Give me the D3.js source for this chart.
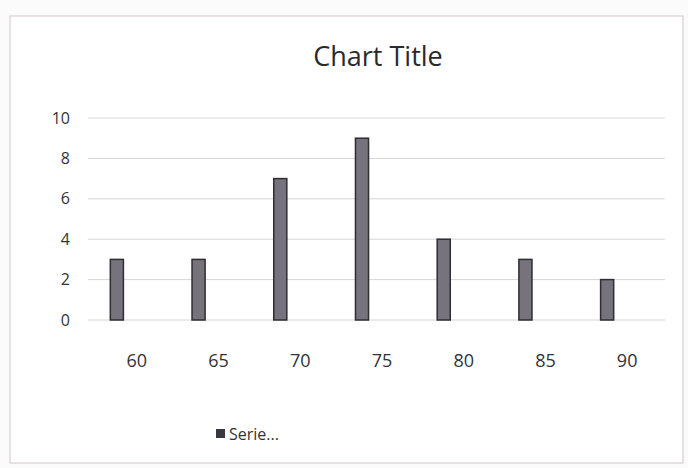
<!DOCTYPE html>
<html>
<head>
<meta charset="utf-8">
<script src="https://cdn.jsdelivr.net/npm/d3@7"></script>
<style>
  body { margin: 0; background: #fbfbfb; }
  text { font-family: "Open Sans", "Liberation Sans", sans-serif; fill: #333; }
</style>
</head>
<body>
<svg></svg>
<script>
var WIDTH = 688;
var HEIGHT = 468;

// categories (x axis) and series values
var categories = ["60", "65", "70", "75", "80", "85", "90"];
var values = [3, 3, 7, 9, 4, 3, 2];
var yTicks = [0, 2, 4, 6, 8, 10];
var seriesName = "Serie...";

var svg = d3.select("svg")
    .attr("width", WIDTH)
    .attr("height", HEIGHT);

// chart frame
svg.append("rect")
    .attr("x", 10).attr("y", 16)
    .attr("width", 673).attr("height", 447)
    .attr("fill", "#ffffff")
    .attr("stroke", "#d9cfd2")
    .attr("stroke-width", 1.2);

svg.append("text")
    .attr("x", 378).attr("y", 66)
    .attr("text-anchor", "middle")
    .style("font-size", "27px")
    .style("fill", "#2a2a2a")
    .text("Chart Title");

var x = d3.scaleBand()
    .domain(categories)
    .range([76, 648])
    .paddingInner(0.84)
    .paddingOuter(0.42);

var y = d3.scaleLinear()
    .domain([0, 10])
    .range([320, 118]);

//gridlines
svg.append("g")
    .selectAll("line")
    .data(yTicks)
    .enter()
    .append("line")
    .attr("x1", 88).attr("x2", 665)
    .attr("y1", function(d) { return y(d); })
    .attr("y2", function(d) { return y(d); })
    .attr("stroke", "#d6d6d6")
    .attr("stroke-width", 1);

//y axis labels
var yAxis = svg.append("g")
    .attr("transform", "translate(70,0)")
    .call(d3.axisLeft(y).tickValues(yTicks).tickSize(0).tickPadding(0));
yAxis.select(".domain").remove();
yAxis.selectAll("text")
    .style("font-size", "16px")
    .style("fill", "#333");

//bars
svg.append("g")
    .selectAll("rect")
    .data(values)
    .enter()
    .append("rect")
    .attr("x", function(d, i) { return x(categories[i]); })
    .attr("y", function(d) { return y(d); })
    .attr("width", x.bandwidth())
    .attr("height", function(d) { return y(0) - y(d); })
    .attr("fill", "#77737d")
    .attr("stroke", "#2f2d33")
    .attr("stroke-width", 1.5);

//x axis labels, sitting well below the zero line
var xAxis = svg.append("g")
    .attr("transform", "translate(20,354)")
    .call(d3.axisBottom(x).tickSize(0).tickPadding(0));
xAxis.select(".domain").remove();
xAxis.selectAll("text")
    .style("font-size", "18px")
    .style("fill", "#333");

//legend
svg.append("rect")
    .attr("x", 216).attr("y", 429)
    .attr("width", 9).attr("height", 9)
    .attr("fill", "#3a383e");
svg.append("text")
    .attr("x", 229).attr("y", 440)
    .style("font-size", "16px")
    .text(seriesName);
</script>
</body>
</html>
